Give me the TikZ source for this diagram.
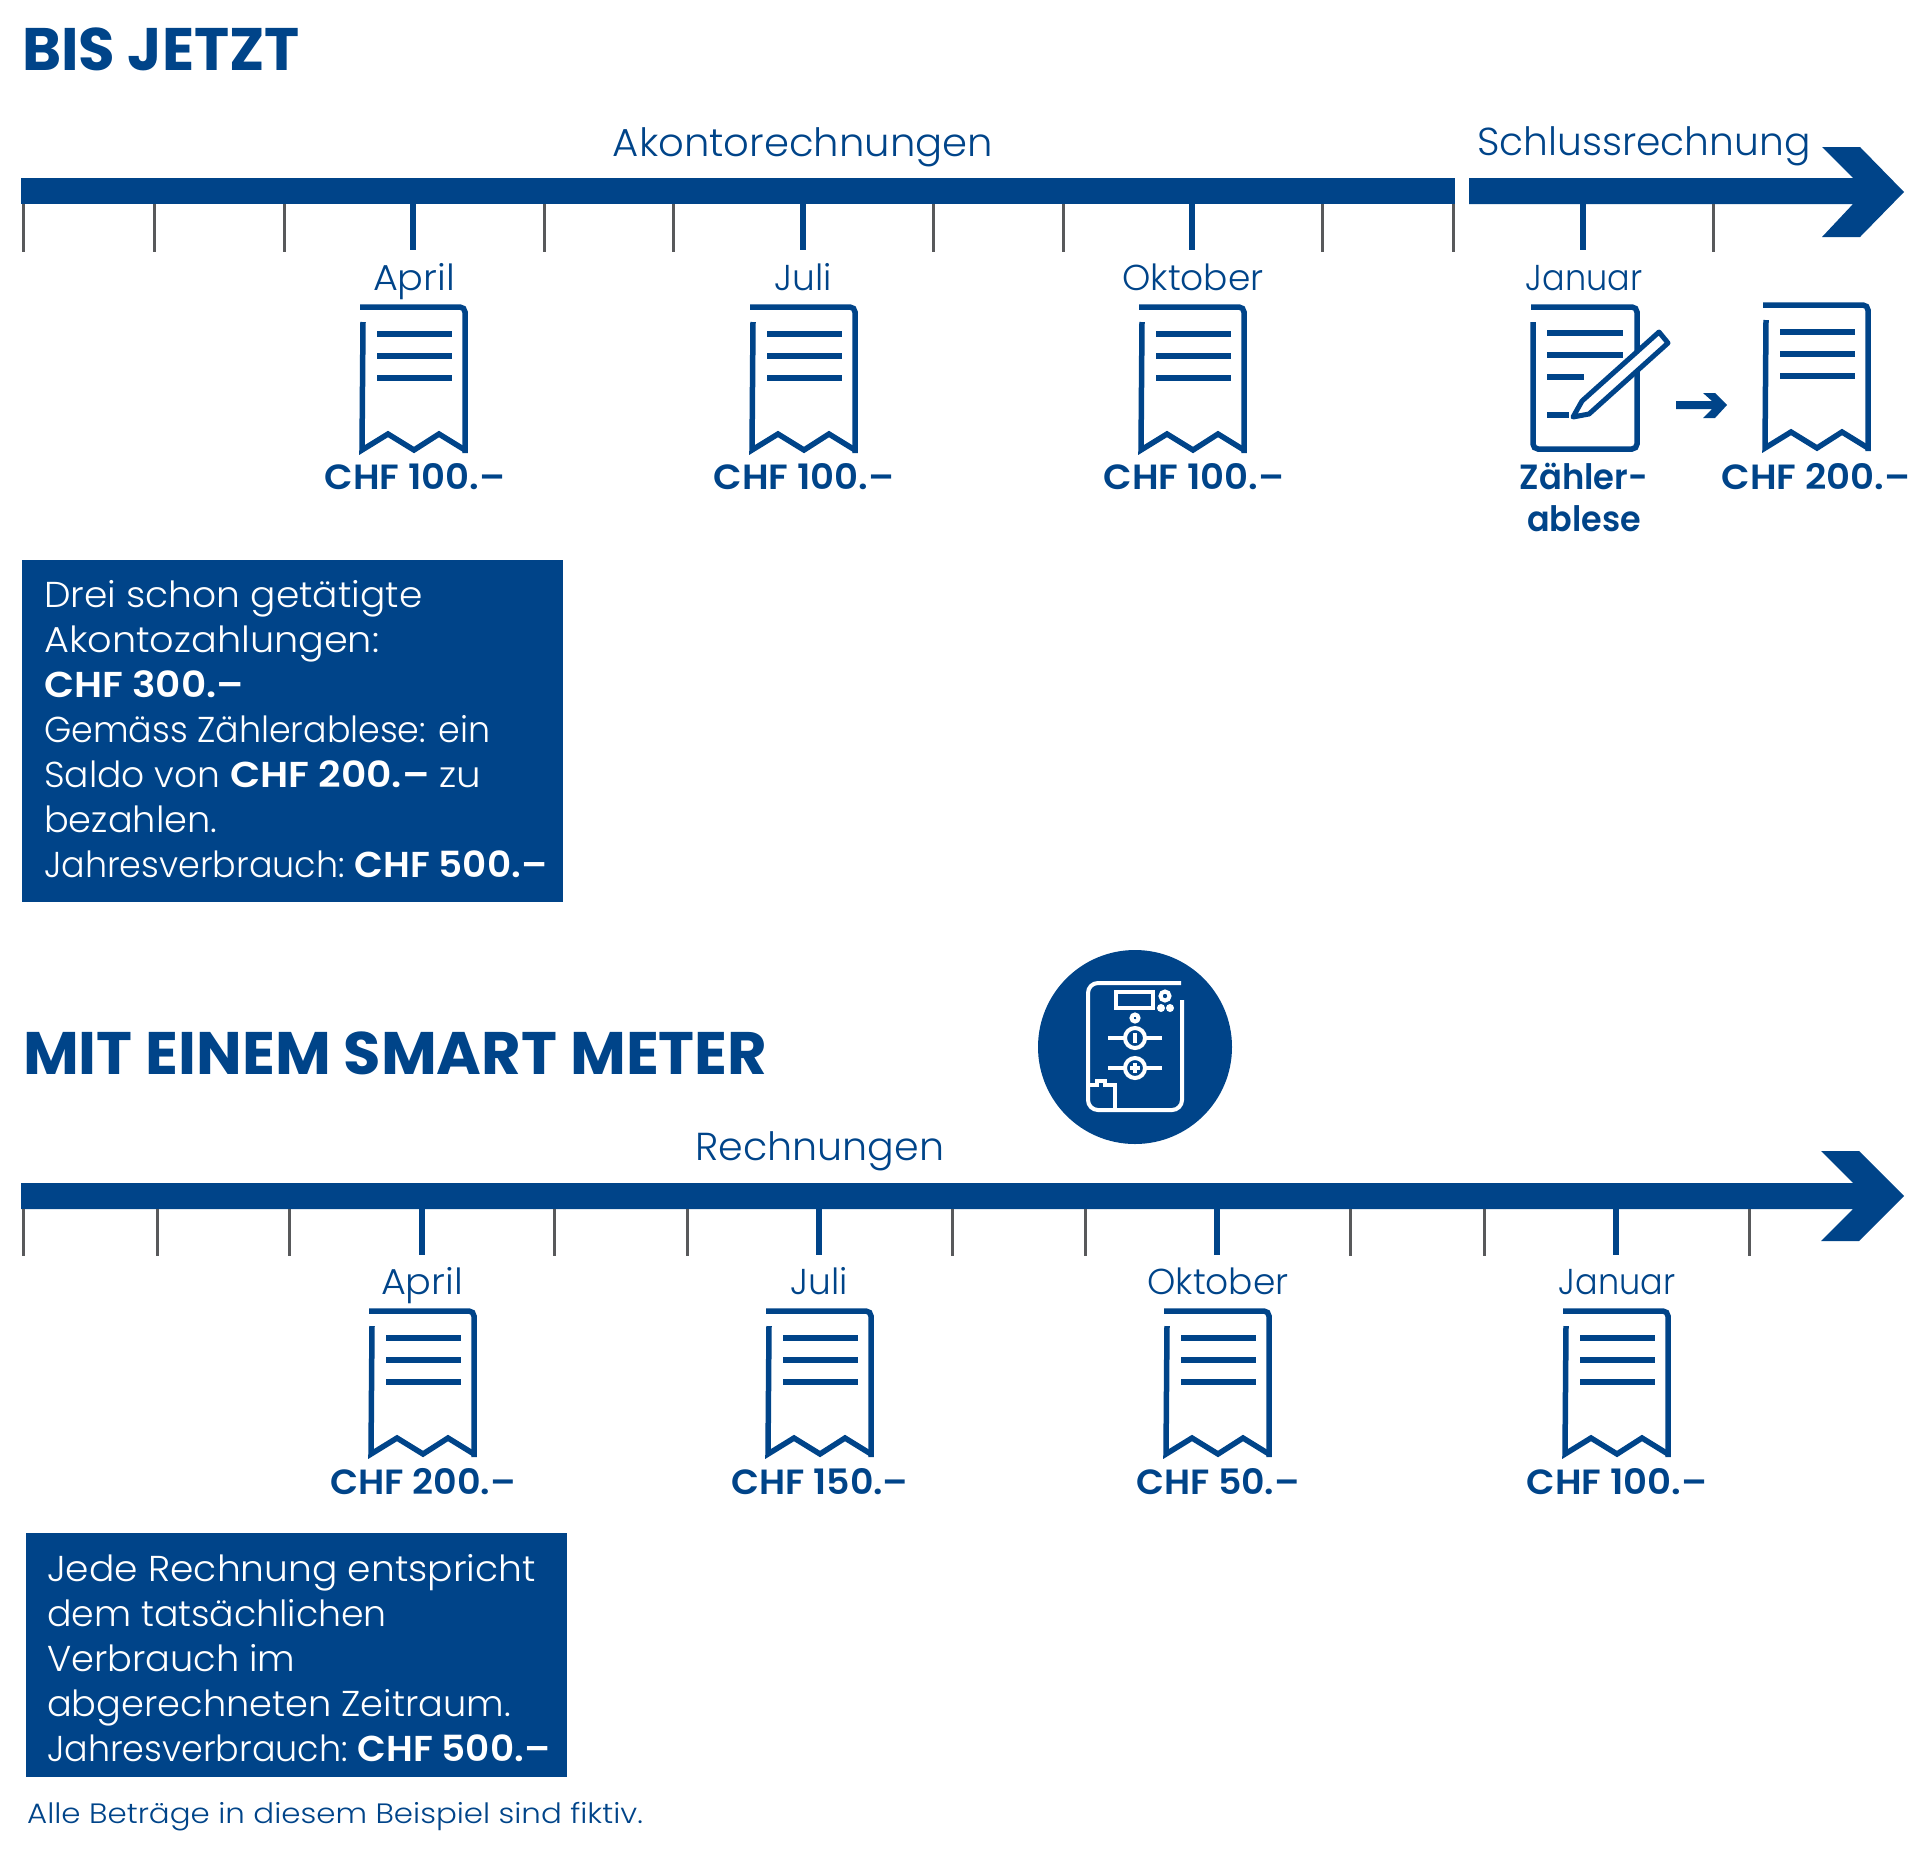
\documentclass[tikz,border=0pt]{standalone}
\usepackage{fontspec}
\setmainfont{Poppins Light}[BoldFont={Poppins SemiBold},BoldFeatures={FakeStretch=1.06}]
\newfontfamily\heavyf{Poppins}[BoldFont={Poppins Bold}]
\definecolor{ewz}{HTML}{004489}
\definecolor{tickgrey}{HTML}{58595B}
\newcommand{\sx}[2]{\scalebox{#1}[1]{#2}}
\tikzset{
  x=1pt,y=-1pt,
  ticksmall/.style={draw=tickgrey,line width=3pt},
  tickbig/.style={draw=ewz,line width=6pt},
  iconline/.style={draw=ewz,line width=5.5pt},
  meterline/.style={draw=white,line width=4pt},
  reg/.style={text=ewz,font=\fontsize{36}{36}\selectfont,anchor=base,inner sep=0pt},
  regbig/.style={text=ewz,font=\fontsize{39}{39}\selectfont,anchor=base,inner sep=0pt},
  val/.style={text=ewz,font=\fontsize{35}{35}\selectfont\bfseries,anchor=base,inner sep=0pt},
  title/.style={text=ewz,font=\fontsize{60}{60}\selectfont\heavyf\bfseries,anchor=base west,inner sep=0pt},
  infobox/.style={fill=ewz,text=white,anchor=north west,inner sep=0pt,
    font=\fontsize{36}{45}\selectfont,align=left},
  receipt/.pic={
    \draw[iconline,rounded corners=5pt] (-53,0) -- (52,0) -- (52,146);
    \draw[iconline] (-50,15) -- (-51,143) -- (-25,127) -- (1,143) -- (26,127) -- (52,143);
    \draw[iconline] (-36,27) -- (39,27) (-36,49) -- (39,49) (-36,71) -- (39,71);
  },
}
\begin{document}
\begin{tikzpicture}
\useasboundingbox (0,0) rectangle (1920,1856);
% --- top section
\node[title] (t1) at (22,70) {\sx{.99}{BIS JETZT}};
\node[regbig] (akonto) at (803,156) {\sx{1.03}{Akontorechnungen}};
\node[regbig] (schluss) at (1644,155) {\sx{1.005}{Schlussrechnung}};
\fill[ewz] (21,178) rectangle (1455,204);
\fill[ewz] (1469,178) -- (1853,178) -- (1822,147) -- (1860,147) -- (1904,192) -- (1860,237) -- (1822,237) -- (1853,204) -- (1469,204) -- cycle;
\foreach \x in {23,154,284,544,673,933,1063,1322,1453,1713}
  \draw[ticksmall] (\x,204) -- (\x,252);
\foreach \x in {413,803,1192,1583}
  \draw[tickbig] (\x,204) -- (\x,250);
\node[reg] (m1) at (414,290) {\sx{1.06}{April}};
\node[reg] (m2) at (803,290) {Juli};
\node[reg] (m3) at (1193,290) {\sx{1.0}{Oktober}};
\node[reg] (m4) at (1584,290) {\sx{.93}{Januar}};
\pic at (413,307) {receipt};
\pic at (803,307) {receipt};
\pic at (1192,307) {receipt};
\pic at (1816,305) {receipt};
\node[val] (v1) at (415,489) {CHF 100.–};
\node[val] (v2) at (804,489) {CHF 100.–};
\node[val] (v3) at (1194,489) {CHF 100.–};
\node[val] (v4) at (1584,489) {\sx{.91}{Zähler-}};
\node[val] (v5) at (1584,531) {\sx{.9}{ablese}};
\node[val] (v6) at (1816,489) {CHF 200.–};
% note and pencil
\draw[iconline,rounded corners=5pt] (1531,307) -- (1637,307) -- (1637,449) -- (1533,449) -- (1533,322);
\draw[iconline] (1547,333) -- (1623,333) (1547,355) -- (1623,355) (1547,377) -- (1584,377) (1547,415) -- (1569,415);
\draw[draw=ewz,fill=white,line width=5pt,line join=round] (1573,417) -- (1589,414) -- (1668,343) -- (1659,332) -- (1582,401) -- cycle;
\fill[ewz] (1703,393) -- (1715,393) -- (1727,405) -- (1715,418) -- (1703,418) -- (1712,409) -- (1676,409) -- (1676,401) -- (1712,401) -- cycle;
% box 1
\fill[ewz] (22,560) rectangle (563,902);
\node[infobox] (b1) at (44,580) {\sx{1.044}{Drei schon getätigte}\\\sx{1.062}{Akontozahlungen:}\\\sx{1.025}{\textbf{CHF 300.–}}\\\sx{.968}{Gemäss Zählerablese: ein}\\Saldo von \sx{1.03}{\textbf{CHF 200.–}} \sx{1.08}{zu}\\\sx{1.02}{bezahlen.}\\\sx{.97}{Jahresverbrauch:} \sx{.98}{\textbf{CHF 500.–}}};
% --- bottom section
\node[title] (t2) at (23,1074) {\sx{1.013}{MIT EINEM SMART METER}};
\fill[ewz] (1135,1047) circle[radius=97];
\draw[meterline,rounded corners=10pt] (1181,983) -- (1088,983) -- (1088,1110) -- (1182,1110) -- (1182,1000);
\draw[meterline] (1116,992) rectangle (1153,1008);
\draw[meterline] (1165,996) circle[radius=4.5] (1135,1018) circle[radius=3.5];
\fill[white] (1161,1008) circle[radius=4] (1170,1008) circle[radius=4];
\draw[meterline] (1135,1038) circle[radius=10] (1135,1068) circle[radius=10];
\draw[meterline] (1108,1038) -- (1124,1038) (1146,1038) -- (1162,1038) (1135,1033) -- (1135,1043);
\draw[meterline] (1108,1068) -- (1124,1068) (1146,1068) -- (1162,1068) (1135,1063) -- (1135,1073) (1130,1068) -- (1140,1068);
\draw[meterline] (1090,1085) -- (1097,1085) -- (1097,1081) -- (1105,1081) -- (1105,1085) -- (1115,1085) -- (1115,1110);
\node[regbig] (rech) at (820,1160) {\sx{1.015}{Rechnungen}};
\fill[ewz] (21,1183) -- (1853,1183) -- (1821,1151) -- (1859,1151) -- (1904,1196) -- (1859,1241) -- (1821,1241) -- (1853,1209) -- (21,1209) -- cycle;
\foreach \x in {23,157,289,554,687,952,1085,1350,1484,1749}
  \draw[ticksmall] (\x,1209) -- (\x,1256);
\foreach \x in {422,819,1217,1616}
  \draw[tickbig] (\x,1209) -- (\x,1255);
\node[reg] (n1) at (422,1294) {\sx{1.06}{April}};
\node[reg] (n2) at (819,1294) {Juli};
\node[reg] (n3) at (1218,1294) {\sx{1.0}{Oktober}};
\node[reg] (n4) at (1617,1294) {\sx{.93}{Januar}};
\pic at (422,1311) {receipt};
\pic at (819,1311) {receipt};
\pic at (1217,1311) {receipt};
\pic at (1616,1311) {receipt};
\node[val] (w1) at (423,1494) {\sx{.985}{CHF 200.–}};
\node[val] (w2) at (820,1494) {\sx{.98}{CHF 150.–}};
\node[val] (w3) at (1218,1494) {\sx{.98}{CHF 50.–}};
\node[val] (w4) at (1617,1494) {CHF 100.–};
\fill[ewz] (26,1533) rectangle (567,1777);
\node[infobox] (b2) at (47,1554) {\sx{1.045}{Jede Rechnung entspricht}\\\sx{1.007}{dem tatsächlichen}\\\sx{1.02}{Verbrauch im}\\\sx{1.02}{abgerechneten Zeitraum.}\\\sx{.97}{Jahresverbrauch:} \sx{.98}{\textbf{CHF 500.–}}};
\node[text=ewz,font=\fontsize{28}{28}\selectfont,anchor=base west,inner sep=0pt] (foot) at (27,1823) {\sx{1.103}{Alle Beträge in diesem Beispiel sind fiktiv.}};
\end{tikzpicture}
\end{document}
